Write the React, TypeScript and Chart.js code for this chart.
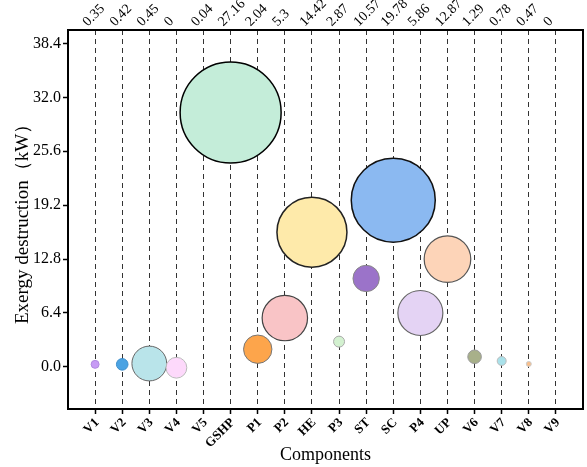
import { useEffect, useRef } from 'react';
import { Chart, registerables } from 'chart.js';

Chart.register(...registerables);

const categories = ['V1', 'V2', 'V3', 'V4', 'V5', 'GSHP', 'P1', 'P2', 'HE', 'P3', 'ST', 'SC', 'P4', 'UP', 'V6', 'V7', 'V8', 'V9'];
const topValueLabels = ['0.35', '0.42', '0.45', '0', '0.04', '27.16', '2.04', '5.3', '14.42', '2.87', '10.57', '19.78', '5.86', '12.87', '1.29', '0.78', '0.47', '0'];
const bubbleY: (number | null)[] = [0.3, 0.3, 0.4, -0.1, null, 30.2, 2.1, 5.8, 16.0, 3.0, 10.5, 19.8, 6.4, 12.8, 1.2, 0.7, 0.35, null];
const bubbleSize = [4, 5.8, 17.4, 10.4, 0, 50.5, 14.2, 22.7, 35, 5.5, 13.2, 42, 22.5, 23.3, 6.8, 4.5, 2.5, 0];
const yTicks = [0, 6.4, 12.8, 19.2, 25.6, 32.0, 38.4];

const fillColors = ['#c79bf5', '#4ba3e3', '#b9e4ea', '#fdd9fb', '#ffffff', '#c4edd9', '#fda54b', '#f9c4c6', '#feeaaa', '#d3f1d0', '#9b73c9', '#8bb9f1', '#e4d3f4', '#fdd4b8', '#a8b08a', '#a9e1ea', '#f8bf8c', '#ffffff'];
const edgeColors = ['#b08ae0', '#3f8fcc', '#666666', '#bbbbbb', '#999999', '#000000', '#777777', '#444444', '#222222', '#aaaaaa', '#888888', '#111111', '#666666', '#555555', '#999999', '#bbbbbb', '#cccccc', '#999999'];
const edgeWidths = [1, 1, 1, 1, 1, 1.5, 1, 1.2, 1.5, 1, 1, 1.5, 1.2, 1.2, 1, 1, 1, 1];

const serif = 'Liberation Serif';

export default function App() {
  const ref = useRef<HTMLCanvasElement>(null);

  useEffect(() => {
    document.body.style.margin = '0';
    const points: { x: number; y: number; r: number }[] = [];
    const bg: string[] = [];
    const bc: string[] = [];
    const bw: number[] = [];
    categories.forEach((_, i) => {
      const y = bubbleY[i];
      if (y === null || bubbleSize[i] <= 0) return;
      points.push({ x: i + 1, y, r: bubbleSize[i] });
      bg.push(fillColors[i]);
      bc.push(edgeColors[i]);
      bw.push(edgeWidths[i]);
    });

    const framePlugin = {
      id: 'frame',
      afterDraw(chart: any) {
        const { ctx, chartArea: a } = chart;
        ctx.save();
        ctx.strokeStyle = '#000';
        ctx.lineWidth = 2;
        ctx.strokeRect(a.left, a.top, a.right - a.left, a.bottom - a.top);
        ctx.restore();
      },
    };

    const catTicks = (s: any) => {
      s.ticks = categories.map((_, i) => ({ value: i + 1 }));
    };
    const noPad = (s: any) => {
      s.paddingLeft = 0;
      s.paddingRight = 0;
      s.paddingTop = 0;
      s.paddingBottom = 0;
    };

    const chart = new Chart(ref.current!, {
      type: 'bubble',
      data: {
        datasets: [
          {
            data: points,
            backgroundColor: bg,
            borderColor: bc,
            borderWidth: bw,
            hoverRadius: 0,
            clip: false as any,
          },
        ],
      },
      options: {
        responsive: false,
        animation: false,
        events: [],
        layout: { autoPadding: false, padding: { left: 0, right: 4, top: 0, bottom: 0 } },
        plugins: { legend: { display: false }, tooltip: { enabled: false } },
        scales: {
          x: {
            type: 'linear',
            position: 'bottom',
            min: 0,
            max: 19,
            afterBuildTicks: catTicks,
            afterFit: (s: any) => {
              s.height = 58;
              noPad(s);
            },
            ticks: {
              autoSkip: false,
              minRotation: 45,
              maxRotation: 45,
              padding: 1,
              labelOffset: 2,
              color: '#000',
              font: { family: serif, size: 13, weight: 'bold' },
              callback: (v: any) => categories[Number(v) - 1] ?? '',
            },
            grid: {
              color: '#333',
              lineWidth: 1,
              drawTicks: true,
              tickLength: 5,
              tickColor: '#000',
              tickWidth: 1.5,
              tickBorderDash: [],
            },
            border: { display: false, dash: [5, 4] },
            title: {
              display: true,
              text: 'Components',
              color: '#000',
              font: { family: serif, size: 18 },
              padding: { top: 0, bottom: 1 },
            },
          },
          x2: {
            type: 'linear',
            position: 'top',
            min: 0,
            max: 19,
            afterBuildTicks: catTicks,
            afterFit: (s: any) => {
              s.height = 30;
              noPad(s);
            },
            ticks: {
              autoSkip: false,
              minRotation: 45,
              maxRotation: 45,
              labelOffset: 2,
              padding: 0,
              color: '#000',
              font: { family: serif, size: 14 },
              callback: (v: any) => topValueLabels[Number(v) - 1] ?? '',
            },
            grid: { display: false, drawTicks: false },
            border: { display: false },
          },
          y: {
            type: 'linear',
            min: -5,
            max: 40,
            afterBuildTicks: (s: any) => {
              s.ticks = yTicks.map((v) => ({ value: v }));
            },
            afterFit: (s: any) => {
              s.width = 68;
              noPad(s);
            },
            ticks: {
              padding: 2,
              color: '#000',
              font: { family: serif, size: 16 },
              callback: (v: any) => Number(v).toFixed(1),
            },
            grid: {
              drawOnChartArea: false,
              drawTicks: true,
              tickLength: 5,
              tickColor: '#000',
              tickWidth: 1.5,
            },
            border: { display: false },
            title: {
              display: true,
              text: 'Exergy destruction（kW）',
              color: '#000',
              font: { family: serif, size: 19 },
              padding: { top: 12, bottom: 0 },
            },
          },
        },
      } as any,
      plugins: [framePlugin],
    });

    return () => chart.destroy();
  }, []);

  return <canvas ref={ref} width={587} height={467} style={{ display: 'block' }} />;
}
